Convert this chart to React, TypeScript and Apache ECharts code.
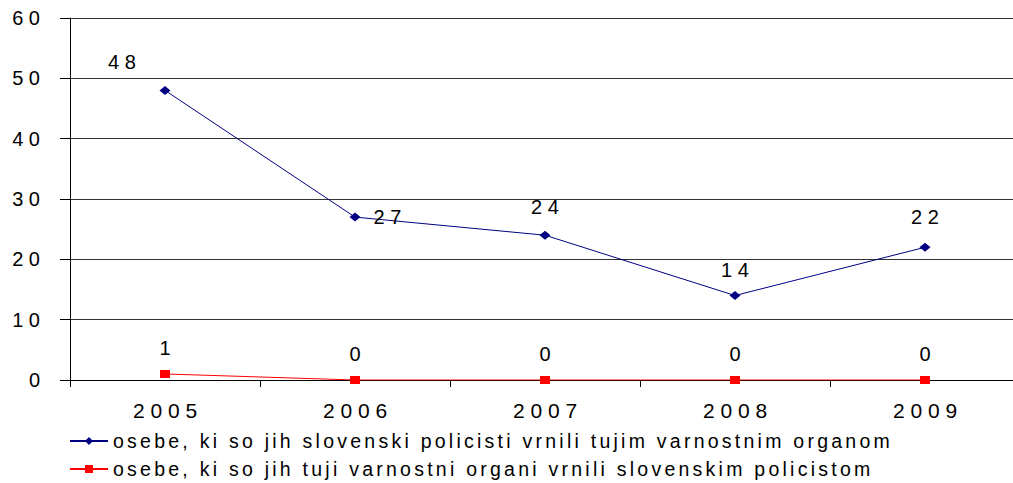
import React, { useEffect, useRef } from "react";
import * as echarts from "echarts";

const years = ["2005", "2006", "2007", "2008", "2009"];
const returnedBySlovenianPolice = [48, 27, 24, 14, 22];
const returnedToSlovenianPolice = [1, 0, 0, 0, 0];
const seriesNames = [
  "osebe, ki so jih slovenski policisti vrnili tujim varnostnim organom",
  "osebe, ki so jih tuji varnostni organi vrnili slovenskim policistom",
];

const FONT = 'Arial, "Liberation Sans", sans-serif';
const spaced = (s: string, sep = " ") => Array.from(String(s)).join(sep);

export default function App() {
  const ref = useRef<HTMLDivElement>(null);
  useEffect(() => {
    if (!ref.current) return;
    const chart = echarts.init(ref.current, null, { renderer: "svg" });
    const nameA = spaced(seriesNames[0], "\u2006");
    const nameB = spaced(seriesNames[1], "\u2006");

    const labelBase = {
      show: true,
      color: "#000",
      fontFamily: FONT,
      fontSize: 20,
      formatter: (p: any) => spaced(String(p.value)),
    };

    const blueData = returnedBySlovenianPolice.map((v, i) => {
      if (i === 0)
        return { value: v, label: { position: "top", distance: 14, offset: [-43, 0] } };
      if (i === 1) return { value: v, label: { position: "right", distance: 13 } };
      if (i === 3) return { value: v, label: { position: "top", distance: 11 } };
      if (i === 4) return { value: v, label: { position: "top", distance: 16 } };
      return { value: v };
    });

    const legendBase = {
      orient: "horizontal",
      left: 69,
      padding: 0,
      itemWidth: 38,
      itemHeight: 10,
      textStyle: { color: "#000", fontFamily: FONT, fontSize: 19.5, lineHeight: 20 },
    };

    chart.setOption({
      animation: false,
      backgroundColor: "#fff",
      grid: { left: 70, top: 18, width: 950, height: 362, containLabel: false },
      xAxis: {
        type: "category",
        data: years,
        boundaryGap: true,
        axisLine: { lineStyle: { color: "#000", width: 1 } },
        axisTick: { show: true, length: 7, lineStyle: { color: "#000" } },
        axisLabel: {
          color: "#000",
          fontFamily: FONT,
          fontSize: 21,
          margin: 20,
          formatter: (v: string) => spaced(v),
        },
        splitLine: { show: false },
      },
      yAxis: {
        type: "value",
        min: 0,
        max: 60,
        interval: 10,
        axisLine: { show: true, lineStyle: { color: "#000", width: 1 } },
        axisTick: { show: true, length: 10, lineStyle: { color: "#000" } },
        axisLabel: {
          color: "#000",
          fontFamily: FONT,
          fontSize: 20,
          margin: 30,
          formatter: (v: number) => spaced(String(v)),
        },
        splitLine: { show: true, lineStyle: { color: "#333", width: 1 } },
      },
      legend: [
        { ...legendBase, top: 431, data: [nameA] },
        { ...legendBase, top: 459, data: [nameB] },
      ],
      series: [
        {
          name: nameA,
          type: "line",
          data: blueData,
          symbol: "diamond",
          symbolSize: [11, 9],
          itemStyle: { color: "#000080" },
          lineStyle: { color: "#000080", width: 1 },
          label: { ...labelBase, position: "top", distance: 14 },
        },
        {
          name: nameB,
          type: "line",
          data: returnedToSlovenianPolice,
          symbol: "rect",
          symbolSize: [10, 8],
          itemStyle: { color: "#ff0000" },
          lineStyle: { color: "#ff0000", width: 1 },
          label: { ...labelBase, position: "top", distance: 12 },
        },
      ],
    });
    return () => chart.dispose();
  }, []);
  return (
    <div
      style={{
        position: "absolute",
        left: 0,
        top: 0,
        width: 1013,
        height: 483,
        overflow: "hidden",
      }}
    >
      <div ref={ref} style={{ width: 1040, height: 483 }} />
    </div>
  );
}
